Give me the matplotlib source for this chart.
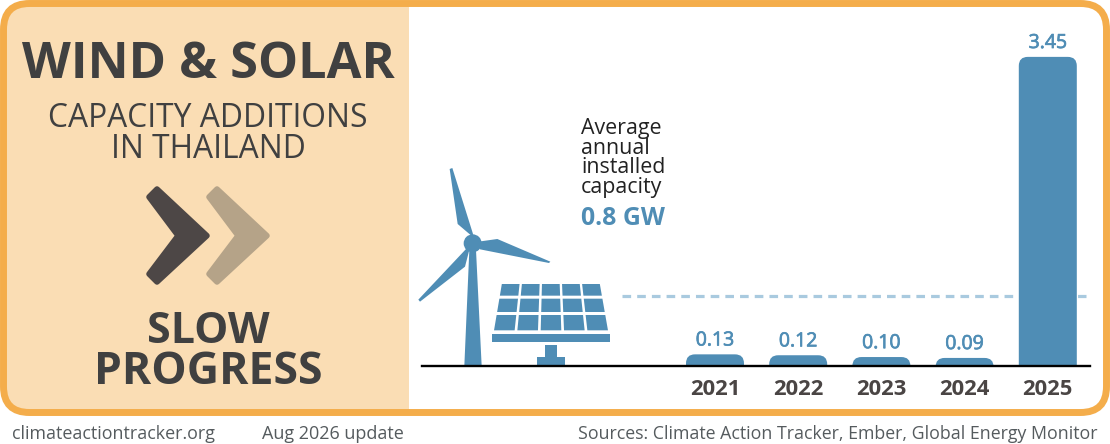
import numpy as np
import matplotlib
matplotlib.use('Agg')
import matplotlib.pyplot as plt
import matplotlib.patheffects as pe
from matplotlib.patches import FancyBboxPatch, Polygon, Rectangle, Circle

plt.rcParams['font.family'] = ['Open Sans', 'DejaVu Sans']

# data
years = [2021, 2022, 2023, 2024, 2025]
additions = [0.13, 0.12, 0.10, 0.09, 3.45]
avg_value = 0.78
avg_label = '0.8 GW'

BLUE = '#4F8DB5'
DASH = '#A9CADF'
ORANGE = '#F4AD4B'
PANEL = '#FADDB4'
DARK = '#404040'
YEARCOL = '#4A4544'
FOOT = '#555B5E'

W, H = 1110, 444
fig = plt.figure(figsize=(W / 100, H / 100), dpi=100, facecolor='white')

# background layer in pixel coords
bg = fig.add_axes([0, 0, 1, 1])
bg.set_xlim(0, W)
bg.set_ylim(H, 0)
bg.axis('off')

frame_fill = FancyBboxPatch((3.5, 3.5), W - 7, 409, boxstyle='round,pad=0,rounding_size=26',
                            fc='white', ec='none', zorder=1)
bg.add_patch(frame_fill)
panel = Rectangle((0, 0), 409, 416, fc=PANEL, ec='none', zorder=2)
bg.add_patch(panel)
panel.set_clip_path(frame_fill)
bg.add_patch(FancyBboxPatch((3.5, 3.5), W - 7, 409, boxstyle='round,pad=0,rounding_size=26',
                            fc='none', ec=ORANGE, lw=5, zorder=3))

# left panel text
bg.text(208, 65, 'WIND & SOLAR', ha='center', va='center', fontsize=36.4, fontweight='bold', color=DARK, zorder=5)
bg.text(208, 118, 'CAPACITY ADDITIONS', ha='center', va='center', fontsize=22.9, color=DARK, zorder=5)
bg.text(208, 149, 'IN THAILAND', ha='center', va='center', fontsize=22.9, color=DARK, zorder=5)
bg.text(208, 331, 'SLOW', ha='center', va='center', fontsize=31, fontweight='bold', color=DARK, zorder=5)
bg.text(208, 372, 'PROGRESS', ha='center', va='center', fontsize=32, fontweight='bold', color=DARK, zorder=5)


# chevrons
def chevron(dx, col):
    pts = [(149, 197), (157, 189), (207, 235.7), (157, 282), (149, 274), (178, 235.7)]
    pts = [(x + dx, y) for x, y in pts]
    bg.add_patch(Polygon(pts, closed=True, fc=col, ec=col, lw=4, joinstyle='round', zorder=5))


chevron(0, '#4D4746')
chevron(60, '#B5A388')

# footer
bg.text(12, 434, 'climateactiontracker.org', ha='left', va='center', fontsize=12.85, color=FOOT)
bg.text(262, 434, 'Aug 2026 update', ha='left', va='center', fontsize=12.95, color=FOOT)
bg.text(1098, 434, 'Sources: Climate Action Tracker, Ember, Global Energy Monitor',
        ha='right', va='center', fontsize=12.8, color=FOOT)

# annotation
for txt, y in zip(['Average', 'annual', 'installed', 'capacity'], [128, 148, 167, 187]):
    bg.text(581, y, txt, ha='left', va='center', fontsize=15.4, color='#222222', zorder=5)
bg.text(581, 218, avg_label, ha='left', va='center', fontsize=17.9, fontweight='bold', color=BLUE, zorder=5)


def z(pts):
    return [(410 + x / 3, 150 + y / 3) for x, y in pts]


for blade in ([(190, 262), (143, 222), (119, 57), (127, 54), (190, 255)],
              [(205, 275), (262, 267), (421, 335), (417, 339), (210, 298)],
              [(180, 292), (165, 350), (30, 455), (25, 449), (170, 295)],
              [(163, 648), (178, 300), (198, 300), (215, 648)]):
    bg.add_patch(Polygon(z(blade), closed=True, fc=BLUE, ec='none', zorder=5))
bg.add_patch(Circle(z([(188, 280)])[0], 9, fc=BLUE, ec='none', zorder=5))

rows = [(402, 437), (446, 486), (495, 541)]
for top, bot in rows:
    for c in range(5):
        def edge(y, k):
            left = 272 - (y - 402) * 24 / 139
            right = 573 + (y - 402) * 25 / 139
            return left + (right - left) * k
        g = 3.5 / 300
        bg.add_patch(Polygon(z([(edge(top, c / 5 + g), top), (edge(top, (c + 1) / 5 - g), top),
                                (edge(bot, (c + 1) / 5 - g), bot), (edge(bot, c / 5 + g), bot)]),
                             closed=True, fc=BLUE, ec='none', zorder=5))
for x0, x1, y0, y1 in [(245, 601, 551, 577), (405, 442, 585, 622), (381, 465, 622, 648)]:
    bg.add_patch(Rectangle((410 + x0 / 3, 150 + y0 / 3), (x1 - x0) / 3, (y1 - y0) / 3, fc=BLUE, ec='none', zorder=5))

# bar chart, pixel scale: 83.2 px per year, 89.6 px per GW
x_left, x_right, y_base, y_top = 422, 1090, 366, 10
ax = fig.add_axes([x_left / W, 1 - y_base / H, (x_right - x_left) / W, (y_base - y_top) / H])
ax.patch.set_alpha(0)
px_x, px_y = 83.2, 89.6
ax.set_xlim(2021 - (715 - x_left) / px_x, 2021 + (x_right - 715) / px_x)
ax.set_ylim(0, (y_base - y_top) / px_y)
for s in ['top', 'left', 'right']:
    ax.spines[s].set_visible(False)
ax.spines['bottom'].set_linewidth(1.7)
ax.spines['bottom'].set_color('black')
ax.set_yticks([])
ax.set_xticks(years)
ax.set_xticklabels(years, fontsize=15.8, fontweight='bold', color=YEARCOL)
ax.tick_params(axis='x', length=0, pad=9)

ax.axhline(avg_value, xmin=(622 - x_left) / (x_right - x_left), xmax=(1086 - x_left) / (x_right - x_left),
           color=DASH, lw=2.3, dashes=(2.7, 1.9), zorder=1)

bar_w = 58 / px_x
rx, ry = 9 / px_x, 9 / px_y
for yr, v in zip(years, additions):
    ax.add_patch(FancyBboxPatch((yr - bar_w / 2, -0.3), bar_w, v + 0.3,
                                boxstyle=f'round,pad=0,rounding_size={rx}', mutation_aspect=ry / rx,
                                fc=BLUE, ec='none', zorder=2))
    ax.annotate(f'{v:.2f}', (yr, v), xytext=(0, 3.5), textcoords='offset points', ha='center', va='bottom',
                fontsize=14, color=BLUE,
                path_effects=[pe.withStroke(linewidth=0.5, foreground=BLUE)])

fig.savefig('out.png', dpi=100)
